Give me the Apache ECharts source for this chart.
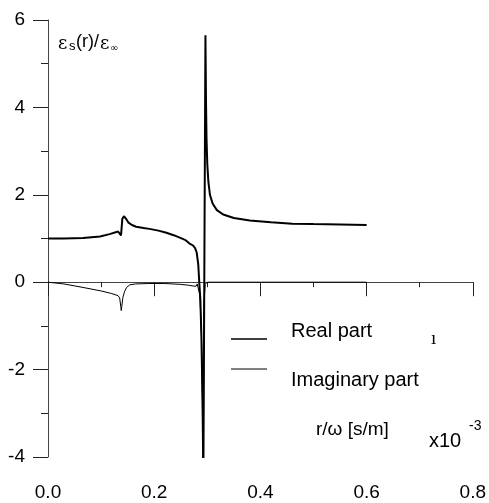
<!DOCTYPE html>
<html>
<head>
<meta charset="utf-8">
<script src="https://cdn.jsdelivr.net/npm/echarts@6/dist/echarts.min.js"></script>
<style>
    html, body { margin: 0; padding: 0; background: #fff; }
    #chart { width: 489px; height: 503px; }
</style>
</head>
<body>
<div id="chart"></div>
<script>
// r/omega in units of 1e-3 s/m
const realR = [0, 0.03, 0.066, 0.098, 0.116, 0.132, 0.1355, 0.1375, 0.140, 0.143, 0.147, 0.151, 0.158, 0.166, 0.18, 0.191,
    0.208, 0.223, 0.238, 0.248, 0.258, 0.266, 0.273, 0.277, 0.280, 0.283, 0.285, 0.287, 0.289, 0.291, 0.2926,
    0.2965, 0.2975, 0.2985, 0.300, 0.302, 0.305, 0.310, 0.318, 0.330, 0.350, 0.380, 0.420, 0.460, 0.500, 0.550, 0.600];
const realV = [1.0, 1.0, 1.01, 1.045, 1.10, 1.16, 1.12, 1.07, 1.45, 1.51, 1.45, 1.37, 1.31, 1.27, 1.24, 1.22,
    1.18, 1.13, 1.07, 1.02, 0.97, 0.89, 0.84, 0.78, 0.68, 0.40, -0.03, -0.41, -1.3, -2.7, -4.5,
    5.65, 4.2, 3.3, 2.7, 2.3, 2.0, 1.8, 1.65, 1.55, 1.47, 1.41, 1.37, 1.34, 1.33, 1.32, 1.31];

const imagR = [0, 0.03, 0.066, 0.10, 0.12, 0.132, 0.135, 0.137, 0.138, 0.139, 0.141, 0.144, 0.148, 0.154, 0.165,
    0.19, 0.22, 0.25, 0.265, 0.275, 0.279, 0.281, 0.283, 0.286, 0.289, 0.291, 0.2926, 0.2935, 0.296, 0.300, 0.600];
const imagV = [0, -0.04, -0.12, -0.2, -0.26, -0.31, -0.36, -0.55, -0.65, -0.55, -0.35, -0.22, -0.12, -0.06, -0.04,
    -0.03, -0.03, -0.05, -0.07, -0.09, -0.09, -0.04, 0, -0.3, -1.2, -3.0, -4.5, -0.5, -0.05, 0, 0];

const xTicks = [0, 0.2, 0.4, 0.6, 0.8];
const yTicks = [-4, -2, 0, 2, 4, 6];

const chart = echarts.init(document.getElementById('chart'));

const font = 'Liberation Sans, Arial, sans-serif';
const axisCommon = {
    axisLine: { lineStyle: { color: '#444', width: 1 } },
    splitLine: { show: false },
    axisLabel: { color: '#000', fontSize: 19, fontFamily: font }
};

const option = {
    animation: false,
    backgroundColor: '#fff',
    grid: { left: 48, right: 15, top: 20, bottom: 46 },
    xAxis: {
        type: 'value',
        min: xTicks[0], max: xTicks[xTicks.length - 1], interval: 0.2,
        ...axisCommon,
        axisTick: { inside: false, length: 14, lineStyle: { color: '#222' } },
        minorTick: { show: true, splitNumber: 2, length: 5, lineStyle: { color: '#222' } },
        axisLabel: { ...axisCommon.axisLabel, margin: 26, formatter: v => v.toFixed(1) }
    },
    yAxis: {
        type: 'value',
        min: yTicks[0], max: yTicks[yTicks.length - 1], interval: 2,
        ...axisCommon,
        axisTick: { inside: false, length: 15, lineStyle: { color: '#222' } },
        minorTick: { show: true, splitNumber: 2, length: 7, lineStyle: { color: '#222' } },
        axisLabel: { ...axisCommon.axisLabel, margin: 23 }
    },
    series: [
        {
            name: 'Real part', type: 'line', showSymbol: false, clip: true,
            lineStyle: { color: '#000', width: 2 },
            data: realR.map((r, i) => [r, realV[i]])
        },
        {
            name: 'Imaginary part', type: 'line', showSymbol: false, clip: true,
            lineStyle: { color: '#000', width: 1 },
            data: imagR.map((r, i) => [r, imagV[i]])
        }
    ],
    graphic: [
        // y axis title
        { type: 'text', left: 58, top: 35, style: { text: 'ε', fontSize: 18, fontFamily: 'DejaVu Serif, serif', fill: '#000' } },
        { type: 'text', left: 69, top: 40, style: { text: 's', fontSize: 13, fontFamily: font, fill: '#000' } },
        { type: 'text', left: 76, top: 33, style: { text: '(r)/', fontSize: 18, fontFamily: font, fill: '#000' } },
        { type: 'text', left: 100, top: 35, style: { text: 'ε', fontSize: 18, fontFamily: 'DejaVu Serif, serif', fill: '#000' } },
        { type: 'text', left: 110, top: 43, style: { text: '∞', fontSize: 10, fontFamily: 'DejaVu Sans', fill: '#000' } },
        // legend
        { type: 'line', shape: { x1: 231, y1: 339, x2: 267, y2: 339 }, style: { stroke: '#000', lineWidth: 1.5 } },
        { type: 'text', left: 291, top: 321, style: { text: 'Real part', fontSize: 20, fontFamily: font, fill: '#000' } },
        { type: 'line', shape: { x1: 231, y1: 369, x2: 267, y2: 369 }, style: { stroke: '#000', lineWidth: 1 } },
        { type: 'text', left: 291, top: 370, style: { text: 'Imaginary part', fontSize: 20, fontFamily: font, fill: '#000' } },
        { type: 'text', left: 431, top: 330, style: { text: 'ı', fontSize: 19, fontFamily: 'Liberation Serif, serif', fill: '#000' } },
        // x axis title
        { type: 'text', left: 316, top: 420, style: { text: 'r/ω [s/m]', fontSize: 19, fontFamily: font, fill: '#000' } },
        { type: 'text', left: 429, top: 431, style: { text: 'x10', fontSize: 20, fontFamily: font, fill: '#000' } },
        { type: 'text', left: 469, top: 419, style: { text: '-3', fontSize: 14, fontFamily: font, fill: '#000' } }
    ]
};

chart.setOption(option);
</script>
</body>
</html>
